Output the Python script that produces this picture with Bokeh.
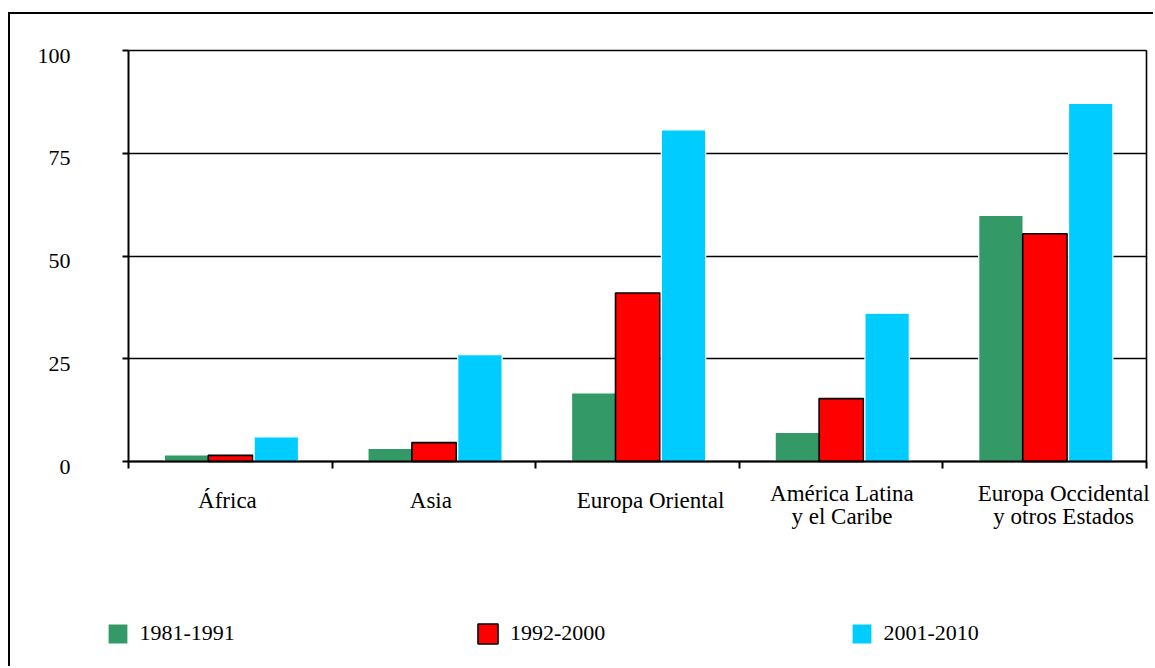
import numpy as np
from bokeh.plotting import figure
from bokeh.models import Range1d, FixedTicker, Legend, LegendItem, Grid, LinearAxis
from bokeh.embed import file_html
from bokeh.resources import INLINE

categories = ["África", "Asia", "Europa Oriental",
              "América Latina\ny el Caribe", "Europa Occidental\ny otros Estados"]
periods = ["1981-1991", "1992-2000", "2001-2010"]
v1981 = [1.6, 3.2, 16.7, 7.1, 59.9]
v1992 = [1.5, 4.6, 41.0, 15.3, 55.4]
v2001 = [6.0, 26.0, 80.7, 36.1, 87.1]
y_ticks = [0, 25, 50, 75, 100]

# styling
colors = ["#339966", "#ff0000", "#00ccff"]
outlines = ["white", "black", "white"]
outline_w = [1.2, 1.6, 1.2]
offsets = [-0.215, 0.001, 0.226]
bar_width = 0.218
label_nudge = [-0.014, -0.015, 0.064, 0.004, 0.093]   # horizontal nudge of category labels
FONT = "Liberation Serif"
FS = "22px"
FS_X = "23px"

n = len(categories)
centers = [i + 0.5 for i in range(n)]
bounds = list(range(n + 1))

# canvas occupies page x 10..1155, y 14..668; plot area 128..1146 x 50..461
W, H = 1145, 654
px_per_x = (1146 - 128) / n
px_per_y = (461 - 50) / 100
y0 = -(668 - 461) / px_per_y
y1 = 100 + (50 - 14) / px_per_y
x_range = Range1d(-(128 - 10) / px_per_x, n + (1155 - 1146) / px_per_x)
y_range = Range1d(y0, y1)
dy = 5 / px_per_y  # y tick labels sit slightly below their ticks

p = figure(width=W, height=H, output_backend="svg", toolbar_location=None,
           x_range=x_range, y_range=y_range,
           min_border_left=0, min_border_top=0, min_border_right=0, min_border_bottom=0)
p.extra_y_ranges = {"ylab": Range1d(y0 + dy, y1 + dy)}
p.styles = {"margin-top": "12px", "margin-left": "8px",
            "border-top": "2px solid black", "border-left": "2px solid black"}
p.outline_line_color = None

p.xgrid.grid_line_color = None
p.ygrid.grid_line_color = None
hgrid = Grid(dimension=1, ticker=FixedTicker(ticks=y_ticks), cross_bounds=(0, n),
             grid_line_color="black", grid_line_width=1.6)
vgrid = Grid(dimension=0, ticker=FixedTicker(ticks=[n]), cross_bounds=(0, 100),
             grid_line_color="black", grid_line_width=1.6)
p.add_layout(hgrid)
p.add_layout(vgrid)

series = [v1981, v1992, v2001]
renderers = []
for vals, c, oc, ow, off in zip(series, colors, outlines, outline_w, offsets):
    xs = [cx + off for cx in centers]
    r = p.vbar(x=xs, top=vals, bottom=0, width=bar_width, fill_color=c,
               line_color=oc, line_width=ow)
    renderers.append(r)

# y axis: line and ticks
ya = p.yaxis[0]
ya.fixed_location = 0
ya.bounds = (0, 100)
ya.ticker = FixedTicker(ticks=y_ticks)
ya.axis_line_width = 2
ya.major_tick_line_width = 2
ya.major_tick_out = 6
ya.major_tick_in = 0
ya.minor_tick_line_color = None
ya.major_label_text_font_size = "0px"
ya.major_label_text_color = None

# y axis labels
yl = LinearAxis(y_range_name="ylab", fixed_location=0, ticker=FixedTicker(ticks=y_ticks),
                axis_line_color=None, major_tick_line_color=None, minor_tick_line_color=None,
                major_tick_out=6, major_label_standoff=52,
                major_label_text_font=FONT, major_label_text_font_size=FS,
                major_label_text_color="black")
p.add_layout(yl, "left")

# x axis: line and category boundary ticks
xa = p.xaxis[0]
xa.fixed_location = 0
xa.bounds = (0, n)
xa.ticker = FixedTicker(ticks=[], minor_ticks=bounds)
xa.axis_line_width = 2
xa.major_tick_out = 0
xa.major_tick_in = 0
xa.minor_tick_out = 7
xa.minor_tick_in = 0
xa.minor_tick_line_width = 2
xa.minor_tick_line_color = "black"
xa.major_label_text_font_size = "0px"

# x category labels (one-line and two-line groups)
pos = [c + d for c, d in zip(centers, label_nudge)]
groups = [([q for q, lab in zip(pos, categories) if "\n" not in lab], 26),
          ([q for q, lab in zip(pos, categories) if "\n" in lab], 19)]
for ticks, standoff in groups:
    ax = LinearAxis(fixed_location=0, ticker=FixedTicker(ticks=ticks),
                    axis_line_color=None, major_tick_line_color=None,
                    minor_tick_line_color=None, major_tick_out=0, major_tick_in=0,
                    major_label_standoff=standoff,
                    major_label_overrides={q: lab for q, lab in zip(pos, categories) if q in ticks},
                    major_label_text_font=FONT, major_label_text_font_size=FS_X,
                    major_label_text_line_height=0.92, major_label_text_color="black")
    p.add_layout(ax, "below")

# legends, one per period (positions in px from the plot area's bottom-left)
leg_x = [94.5, 465, 838.5]
for lab, r, lx in zip(periods, renderers, leg_x):
    lg = Legend(items=[LegendItem(label=lab, renderers=[r])], location=(lx, 22),
                orientation="horizontal", glyph_width=25, glyph_height=25,
                label_standoff=10, padding=0, margin=0, border_line_color=None,
                background_fill_alpha=0, label_text_font=FONT,
                label_text_font_size=FS, label_text_color="black")
    p.add_layout(lg, "center")

open("out.html", "w").write(file_html(p, INLINE))
